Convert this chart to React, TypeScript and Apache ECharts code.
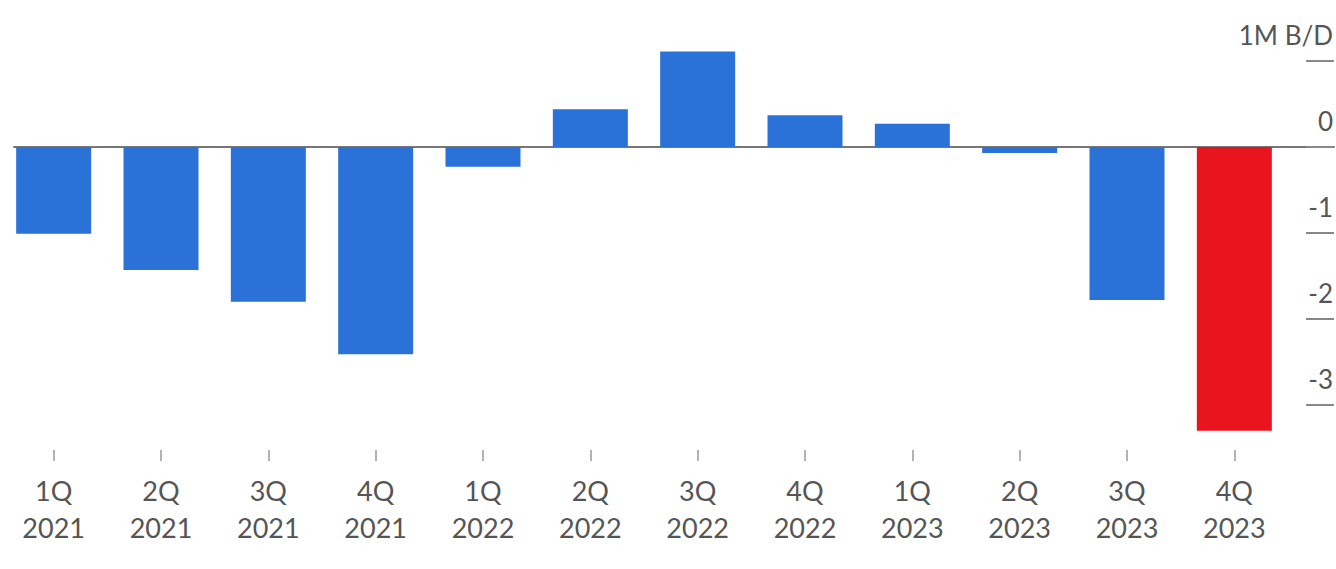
import React, { useEffect, useRef } from "react";
import * as echarts from "echarts";

const categories = [
  "1Q\n2021", "2Q\n2021", "3Q\n2021", "4Q\n2021",
  "1Q\n2022", "2Q\n2022", "3Q\n2022", "4Q\n2022",
  "1Q\n2023", "2Q\n2023", "3Q\n2023", "4Q\n2023",
];
const values = [-1.01, -1.43, -1.8, -2.41, -0.23, 0.44, 1.11, 0.37, 0.27, -0.07, -1.78, -3.3];
const highlightIndex = 11;
const yTicks = [-3, -2, -1, 0, 1];
const unitLabel = "1M B/D";

const BLUE = "#2a72d8";
const RED = "#e8141e";
const FONT = "Lato, 'Noto Sans', sans-serif";

export default function App() {
  const ref = useRef<HTMLDivElement>(null);
  useEffect(() => {
    if (!ref.current) return;
    const chart = echarts.init(ref.current, undefined, { renderer: "svg" });
    const top = 18;
    const height = 430;
    chart.setOption({
      animation: false,
      backgroundColor: "#ffffff",
      grid: [
        { left: -2, width: 1290, top, height },
        { left: 14, right: 2, top, height },
      ],
      xAxis: [
        {
          type: "category",
          gridIndex: 0,
          data: categories,
          position: "bottom",
          offset: 2,
          axisLine: { show: false, onZero: false },
          axisTick: { show: true, alignWithLabel: true, length: 11, lineStyle: { color: "#999", width: 1.5 } },
          axisLabel: {
            color: "#555",
            fontFamily: FONT,
            fontSize: 27,
            lineHeight: 37,
            margin: 22,
            interval: 0,
          },
        },
        {
          type: "value",
          gridIndex: 1,
          min: 0,
          max: 1,
          axisLine: { show: true, onZero: true, lineStyle: { color: "#777", width: 2 } },
          axisTick: { show: false },
          axisLabel: { show: false },
          splitLine: { show: false },
        },
      ],
      yAxis: [
        {
          type: "value",
          gridIndex: 0,
          min: -3.5,
          max: 1.5,
          show: false,
        },
        {
          type: "value",
          gridIndex: 1,
          min: -3.5,
          max: 1.5,
          position: "right",
          axisLine: { show: false, onZero: false },
          splitLine: { show: false },
          axisTick: {
            show: true,
            inside: true,
            length: 28,
            customValues: yTicks,
            lineStyle: { color: "#888", width: 2 },
          },
          axisLabel: {
            show: true,
            inside: true,
            customValues: yTicks,
            margin: 1,
            color: "#555",
            fontFamily: FONT,
            fontSize: 26,
            verticalAlign: "bottom",
            padding: [0, 0, 13, 0],
            formatter: (v: number) => (v === 1 ? unitLabel : String(v)),
          },
        },
      ],
      series: [
        {
          type: "bar",
          xAxisIndex: 0,
          yAxisIndex: 0,
          barWidth: 75,
          data: values.map((v, i) => ({
            value: v,
            itemStyle: { color: i === highlightIndex ? RED : BLUE },
          })),
        },
      ],
    });
    return () => chart.dispose();
  }, []);
  return (
    <div
      ref={ref}
      style={{ position: "absolute", left: 0, top: 0, width: 1336, height: 569 }}
    />
  );
}
